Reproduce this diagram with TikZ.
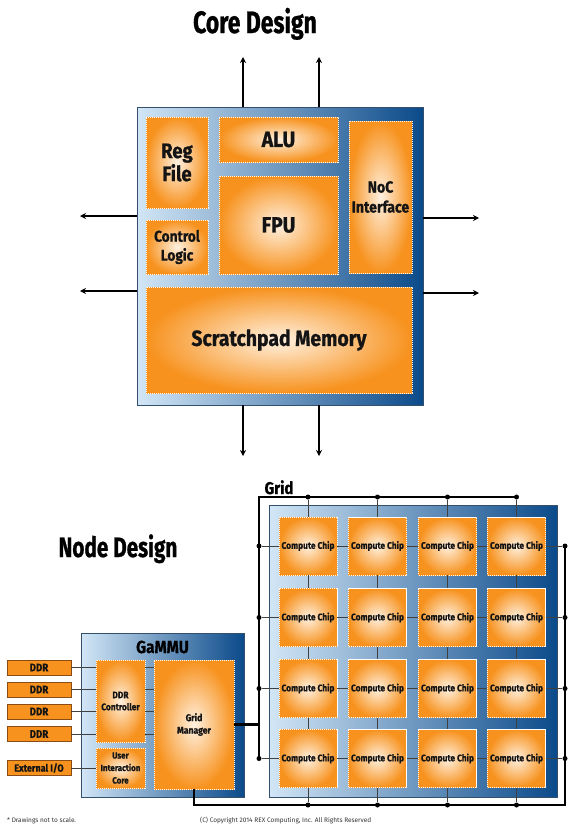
\documentclass[tikz,border=0pt]{standalone}
\usepackage{fontspec}
\setmainfont{Fira Sans}[FakeStretch=0.88, BoldFeatures={FakeBold=0.8}]
\newfontfamily\titular{Fira Sans}[FakeStretch=0.74, BoldFeatures={FakeBold=0.8}]
\newfontfamily\llana{Fira Sans}
\usepackage{tikz}
\usetikzlibrary{arrows.meta}

\definecolor{naranja}{HTML}{F7921E}
\definecolor{naranjaC}{HTML}{FFF1E0}
\definecolor{marron}{HTML}{8A4B14}
\definecolor{azulC}{HTML}{D2E6F6}
\definecolor{azulM}{HTML}{3A93D6}
\definecolor{azulO}{HTML}{0B4A8A}
\definecolor{bordeA}{HTML}{33506E}
\definecolor{textoN}{HTML}{141414}

\tikzset{
	bloque/.style={inner color=naranjaC, outer color=naranja, draw=white, dash pattern=on 1.2pt off 0.8pt, line width=0.7pt, inner sep=0pt, align=center, text=textoN, font=\bfseries},
	placa/.style={left color=azulC, middle color=azulM, right color=azulO, draw=bordeA, line width=0.7pt, inner sep=0pt},
	memoria/.style={fill=naranja, draw=marron, line width=0.8pt, inner sep=0pt, minimum width=64pt, minimum height=15pt, text=textoN, font=\bfseries\fontsize{11}{11}\selectfont},
	flecha/.style={line width=2pt, -{Stealth[length=6pt,width=6pt]}},
	bus/.style={line width=2.6pt},
	hilo/.style={line width=0.6pt, draw=black!75},
	punto/.style={circle, fill=black, inner sep=0pt, minimum size=5pt},
	titulo/.style={anchor=base, text=black, font=\bfseries},
}

\begin{document}
\begin{tikzpicture}[x=1pt,y=-1pt]
			\useasboundingbox (0,0) rectangle (572,828);

			% Titulo del nucleo
			\node[titulo, font=\titular\bfseries\fontsize{31}{31}\selectfont] (tcore) at (255,33) {Core Design};

			% Dibujar el nucleo
			\node[placa, minimum width=286pt, minimum height=298pt] (core) at (280,256) {};
			\node[bloque, minimum width=62pt, minimum height=91pt, font=\bfseries\fontsize{21}{23}\selectfont] (reg) at (177,162.5) {Reg\\File};
			\node[bloque, minimum width=62pt, minimum height=54pt, font=\bfseries\fontsize{15.5}{19}\selectfont] (ctrl) at (177,247) {Control\\Logic};
			\node[bloque, minimum width=119pt, minimum height=45pt, font=\bfseries\fontsize{22}{22}\selectfont] (alu) at (278.5,139.5) {ALU};
			\node[bloque, minimum width=119pt, minimum height=98pt, font=\bfseries\fontsize{22}{22}\selectfont] (fpu) at (278.5,225) {FPU};
			\node[bloque, minimum width=63pt, minimum height=152pt, font=\bfseries\fontsize{16}{20}\selectfont] (noc) at (380.5,197) {NoC\\Interface};
			\node[bloque, minimum width=266pt, minimum height=106pt, font=\bfseries\fontsize{22}{22}\selectfont] (spm) at (279,340) {Scratchpad Memory};

			% Dibujar las flechas
			\coordinate (sN1) at (243,57);
			\coordinate (sN2) at (319,57);
			\coordinate (sS1) at (243,456);
			\coordinate (sS2) at (319,456);
			\coordinate (sO1) at (80,216);
			\coordinate (sO2) at (80,291);
			\coordinate (sE1) at (479,218);
			\coordinate (sE2) at (479,293);
			\draw[flecha] (core.north -| sN1) -- (sN1);
			\draw[flecha] (core.north -| sN2) -- (sN2);
			\draw[flecha] (core.south -| sS1) -- (sS1);
			\draw[flecha] (core.south -| sS2) -- (sS2);
			\draw[flecha] (core.west |- sO1) -- (sO1);
			\draw[flecha] (core.west |- sO2) -- (sO2);
			\draw[flecha] (core.east |- sE1) -- (sE1);
			\draw[flecha] (core.east |- sE2) -- (sE2);

			% Titulos del nodo
			\node[titulo, font=\titular\bfseries\fontsize{28}{28}\selectfont] (tnode) at (118,557) {Node Design};
			\node[titulo, font=\bfseries\fontsize{17}{17}\selectfont] (tgrid) at (279,494) {Grid};

			% Dibujar la rejilla
			\node[placa, minimum width=288pt, minimum height=292pt] (grid) at (413,651) {};
			\coordinate (esqNO) at (259,497);
			\coordinate (esqSE) at (565,805);
			\foreach \fila/\y in {1/546,2/617.5,3/688.5,4/758.5} {
				\foreach \col/\x in {1/308,2/377.5,3/447.5,4/516.5} {
					\node[bloque, minimum width=58pt, minimum height=58pt, font=\bfseries\fontsize{9.5}{9.5}\selectfont] (chip\fila\col) at (\x,\y) {Compute Chip};
				}
				\node[punto] (pL\fila) at (259,\y) {};
				\node[punto] (pR\fila) at (565,\y) {};
			}
			\foreach \col/\x in {1/308,2/377.5,3/447.5,4/516.5} {
				\node[punto] (pT\col) at (\x,497) {};
				\node[punto] (pB\col) at (\x,805) {};
			}

			% Conexiones finas
			\foreach \i in {1,2,3,4} {
				\draw[hilo] (pL\i) -- (chip\i1) (chip\i1) -- (chip\i2) (chip\i2) -- (chip\i3) (chip\i3) -- (chip\i4) (chip\i4) -- (pR\i);
				\draw[hilo] (pT\i) -- (chip1\i) (chip1\i) -- (chip2\i) (chip2\i) -- (chip3\i) (chip3\i) -- (chip4\i) (chip4\i) -- (pB\i);
			}

			% Dibujar el GaMMU
			\node[placa, minimum width=163pt, minimum height=164pt] (gammu) at (162.5,715) {};
			\node[titulo, font=\bfseries\fontsize{17.5}{17.5}\selectfont] (tgammu) at (162.5,653) {GaMMU};
			\node[bloque, minimum width=49pt, minimum height=82pt, font=\bfseries\fontsize{9.5}{12}\selectfont] (ddrc) at (120.5,701) {DDR\\Controller};
			\node[bloque, minimum width=49pt, minimum height=40pt, font=\bfseries\fontsize{9}{12.5}\selectfont] (uic) at (120.5,768) {User\\Interaction\\Core};
			\node[bloque, minimum width=80pt, minimum height=129pt, font=\bfseries\fontsize{9.8}{12.5}\selectfont] (gm) at (194,724.5) {Grid\\Manager};

			% Memorias y E/S
			\foreach \n/\y in {1/667.5,2/689.5,3/711.5,4/734} {
				\node[memoria] (ddr\n) at (39,\y) {DDR};
				\draw[hilo] (ddr\n) -- (ddr\n -| ddrc.west);
				\draw[hilo] (ddr\n -| ddrc.east) -- (ddr\n -| gm.west);
			}
			\node[memoria, font=\bfseries\fontsize{10.2}{10.2}\selectfont] (eio) at (39,768) {External I/O};
			\draw[hilo] (eio) -- (uic);

			% Buses
			\draw[bus] (pT4.center) -- (esqNO) -- (pL4.center);
			\draw[bus] (gm.south) |- (esqSE) -- (pR1.center);
			\draw[bus] (gm.east) -- (gm.east -| esqNO);

			% Notas
			\node[anchor=base west, inner sep=0pt, text=black!80, font=\llana\fontsize{6.5}{6.5}\selectfont] (nota) at (7,822) {* Drawings not to scale.};
			\node[anchor=base west, inner sep=0pt, text=black!80, font=\llana\fontsize{6.5}{6.5}\selectfont] (copy) at (200,822) {(C) Copyright 2014 REX Computing, Inc. All Rights Reserved};
		\end{tikzpicture}
\end{document}
